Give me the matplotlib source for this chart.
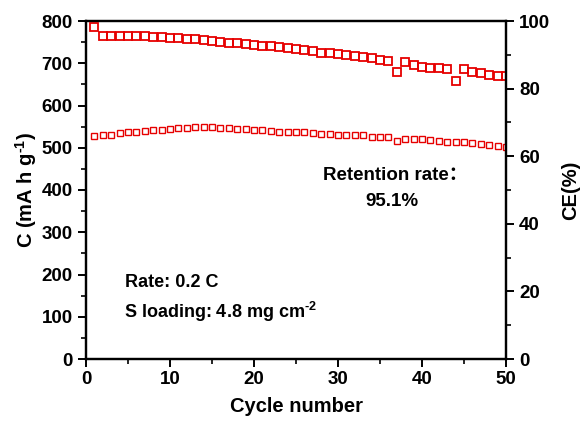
import matplotlib
matplotlib.use('Agg')
import matplotlib.pyplot as plt
from matplotlib.ticker import MultipleLocator

plt.rcParams['font.family'] = ['Liberation Sans', 'Noto Sans CJK SC']
plt.rcParams['font.weight'] = 'bold'
plt.rcParams['mathtext.fontset'] = 'custom'
plt.rcParams['mathtext.rm'] = 'Liberation Sans:bold'
plt.rcParams['mathtext.bf'] = 'Liberation Sans:bold'
plt.rcParams['mathtext.default'] = 'bf'

cycles = list(range(1, 51))
capacity = [527, 530, 530, 534, 537, 538, 540, 542, 542, 544,
            546, 546, 548, 548, 548, 546, 546, 545, 544, 542,
            542, 540, 538, 538, 537, 537, 534, 533, 533, 530,
            530, 529, 529, 526, 526, 525, 517, 521, 521, 520,
            518, 517, 514, 513, 513, 511, 509, 507, 505, 502]
ce = [98.1, 95.7, 95.6, 95.6, 95.6, 95.5, 95.5, 95.3, 95.2, 95.1,
      94.9, 94.8, 94.6, 94.4, 94.2, 93.8, 93.6, 93.4, 93.2, 93.0,
      92.7, 92.5, 92.2, 92.0, 91.6, 91.4, 91.2, 90.6, 90.5, 90.2,
      89.9, 89.5, 89.3, 89.0, 88.6, 88.3, 84.8, 88.0, 87.0, 86.5,
      86.2, 86.0, 85.8, 82.2, 85.8, 85.0, 84.5, 84.1, 83.8, 83.8]

red = '#e60000'

fig = plt.figure(figsize=(5.82, 4.30), dpi=100)
ax = fig.add_axes([86/582, 1-359/430, 420/582, 338/430])
ax2 = ax.twinx()

ax.plot(cycles, capacity, 's', mfc='none', mec=red, ms=4.2, mew=1.0)
ax2.plot(cycles, ce, 's', mfc='none', mec=red, ms=6.2, mew=1.3)

ax.set_xlim(0, 50)
ax.set_ylim(0, 800)
ax2.set_ylim(0, 100)

ax.xaxis.set_major_locator(MultipleLocator(10))
ax.xaxis.set_minor_locator(MultipleLocator(5))
ax.yaxis.set_major_locator(MultipleLocator(100))
ax.yaxis.set_minor_locator(MultipleLocator(50))
ax2.yaxis.set_major_locator(MultipleLocator(20))
ax2.yaxis.set_minor_locator(MultipleLocator(10))

for a in (ax, ax2):
    for s in a.spines.values():
        s.set_linewidth(1.6)
    a.tick_params(which='major', direction='out', length=6, width=1.4, labelsize=13.5)
    a.tick_params(which='minor', direction='out', length=3.5, width=1.2)
ax.tick_params(axis='x', pad=3)

for lab in ax.get_xticklabels() + ax.get_yticklabels() + ax2.get_yticklabels():
    lab.set_fontweight('bold')

ax.set_xlabel('Cycle number', fontsize=14.5, fontweight='bold', labelpad=6)
ax.set_ylabel('C (mA h g$^{\\text{-1}}$)', fontsize=14.5, fontweight='bold', labelpad=2)
ax2.set_ylabel('CE(%)', fontsize=14.5, fontweight='bold', labelpad=8)

ax.text(28.2, 435, 'Retention rate\uff1a', fontsize=13.5, fontweight='bold', va='center', ha='left')
ax.text(36.4, 372, '95.1%', fontsize=13.5, fontweight='bold', va='center', ha='center')
ax.text(4.6, 182, 'Rate: 0.2 C', fontsize=13, fontweight='bold', va='center', ha='left')
ax.text(4.5, 111, 'S loading: 4.8 mg cm$^{\\text{-2}}$', fontsize=13, fontweight='bold', va='center', ha='left')

fig.savefig('out.png', dpi=100)
